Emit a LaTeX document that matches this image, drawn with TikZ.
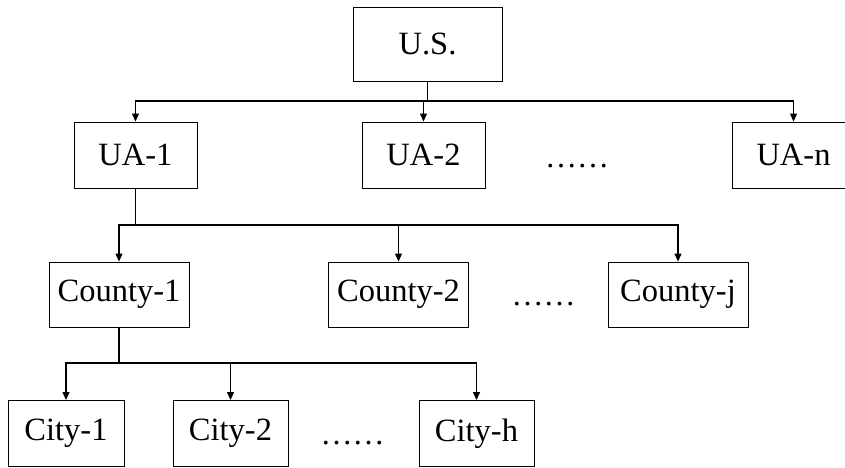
\documentclass[tikz,border=0pt]{standalone}
\usepackage{fontspec}
\setmainfont{Liberation Serif}
\usetikzlibrary{arrows.meta}
\begin{document}
\begin{tikzpicture}[x=1pt,y=-1pt,
  box/.style={draw=black,line width=0.9pt,inner sep=0pt,font=\fontsize{32.5}{38}\selectfont},
  dotsnode/.style={inner sep=0pt,anchor=base,font=\fontsize{32}{38}\selectfont},
  conn/.style={line width=1.1pt},
  arr/.style={line width=1.1pt,-{Triangle[length=8pt,width=7pt]}}]
\useasboundingbox (0,0) rectangle (845,467);
% boxes
\node[box,minimum width=149pt,minimum height=74pt] (US) at (427.5,44) {U.S.};
\node[box,minimum width=123pt,minimum height=66pt] (UA1) at (135.5,155) {UA-1};
\node[box,minimum width=123pt,minimum height=66pt] (UA2) at (423.5,155) {UA-2};
\node[box,minimum width=123pt,minimum height=66pt] (UAn) at (793.5,155) {UA-n};
\node[box,minimum width=140pt,minimum height=65pt] (C1) at (119,294.5) {County-1};
\node[box,minimum width=140pt,minimum height=65pt] (C2) at (398.5,294.5) {County-2};
\node[box,minimum width=140pt,minimum height=65pt] (Cj) at (678,294.5) {County-j};
\node[box,minimum width=116pt,minimum height=66pt] (T1) at (66,433.5) {City-1};
\node[box,minimum width=115pt,minimum height=66pt] (T2) at (230.5,433.5) {City-2};
\node[box,minimum width=115pt,minimum height=66pt] (Th) at (476.5,433.5) {City-h};
% ellipses
\node[dotsnode] (d1) at (577,167) {……};
\node[dotsnode] (d2) at (543.5,305) {……};
\node[dotsnode] (d3) at (352.5,444) {……};
% bars
\coordinate (b1) at (0,101);
\coordinate (b2) at (0,225);
\coordinate (b3) at (0,363);
% U.S. -> UAs
\draw[conn] (US.south) -- (US.south |- b1);
\draw[arr] (US.south |- b1) -| (UA1.north);
\draw[arr] (UA2.north |- b1) -- (UA2.north);
\draw[arr] (US.south |- b1) -| (UAn.north);
% UA-1 -> Counties
\draw[conn] (UA1.south) -- (UA1.south |- b2);
\draw[arr] (UA1.south |- b2) -| (C1.north);
\draw[arr] (C2.north |- b2) -- (C2.north);
\draw[arr] (UA1.south |- b2) -| (Cj.north);
% County-1 -> Cities
\draw[conn] (C1.south) -- (C1.south |- b3);
\draw[arr] (C1.south |- b3) -| (T1.north);
\draw[arr] (T2.north |- b3) -- (T2.north);
\draw[arr] (C1.south |- b3) -| (Th.north);
\end{tikzpicture}
\end{document}
